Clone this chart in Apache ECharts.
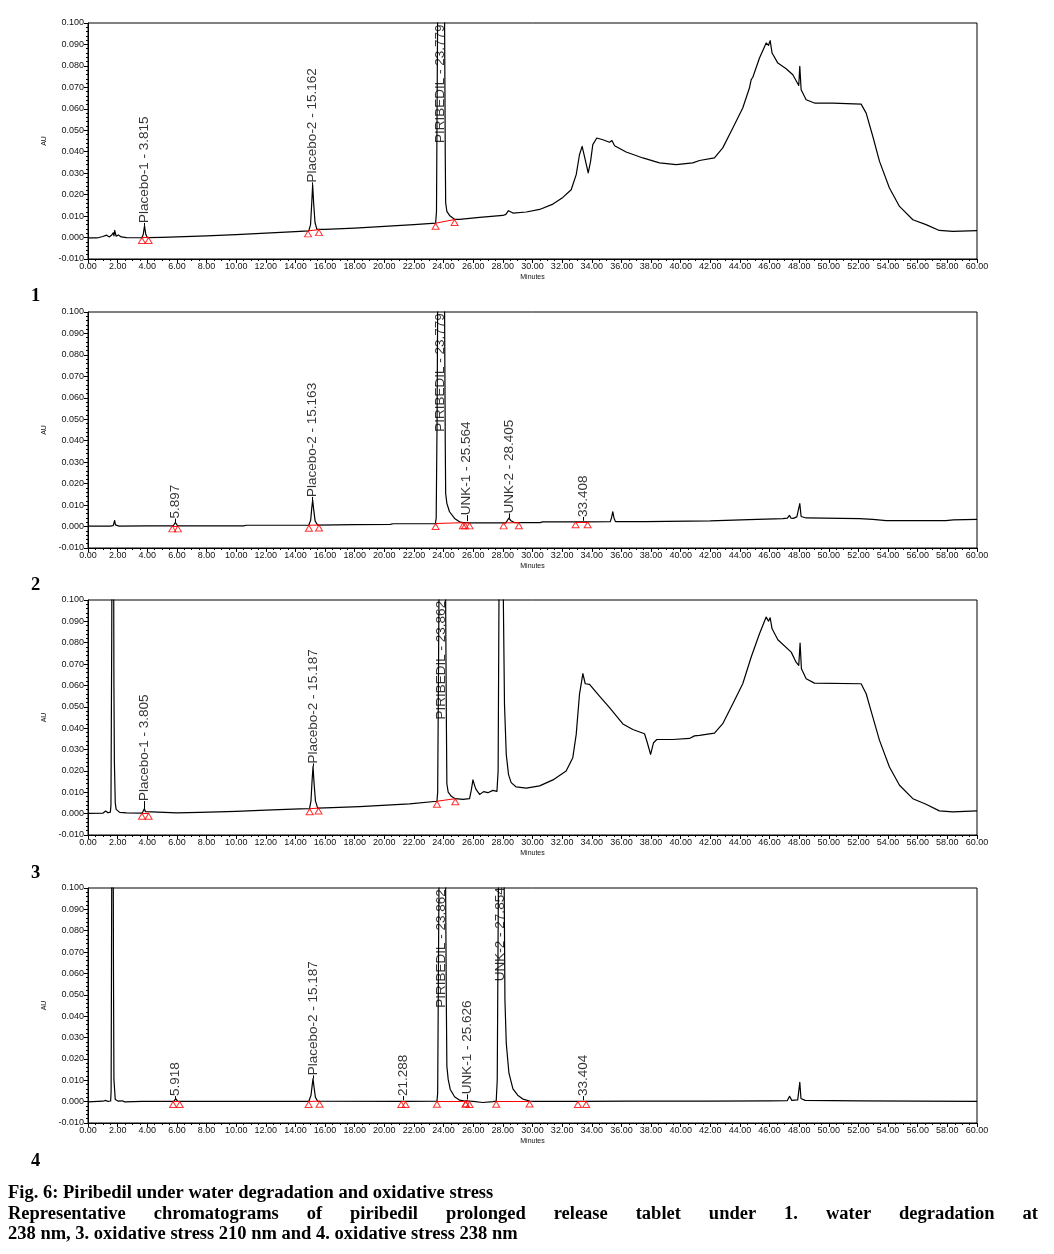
<!DOCTYPE html>
<html><head><meta charset="utf-8">
<script src="https://cdn.jsdelivr.net/npm/echarts@6/dist/echarts.min.js"></script>
<style>html,body{margin:0;padding:0;background:#fff}#c{width:1054px;height:1254px}</style>
</head><body><div id="c"></div>
<script>
// ---- data: [minutes, AU] ----
const trace1 = [[0,-0.0002],[0.6,-0.0002],[1.0,0.0005],[1.25,0.0011],[1.45,0.0003],[1.6,0.0012],[1.7,0.0022],[1.75,0.0008],[1.8,0.0033],[1.9,0.0006],[2.05,0.0012],[2.25,0.0003],[2.6,0.0],[3.2,-0.0001],[3.65,0.0],[3.73,0.0015],[3.815,0.0055],[3.9,0.0015],[4.0,0.0],[5,0.0001],[6,0.0003],[8,0.0008],[10,0.0014],[12,0.0021],[14,0.0028],[14.9,0.0031],[15.02,0.006],[15.1,0.016],[15.162,0.0246],[15.23,0.016],[15.32,0.007],[15.45,0.0038],[16,0.0038],[18,0.0044],[20,0.0052],[22,0.006],[23.46,0.0067],[23.52,0.012],[23.56,0.06],[23.62,0.13],[23.779,0.2],[23.95,0.16],[24.06,0.11],[24.11,0.04],[24.14,0.0161],[24.22,0.0122],[24.4,0.0103],[24.74,0.0085],[25.08,0.0085],[26.43,0.0094],[28.0,0.0103],[28.2,0.0108],[28.38,0.0125],[28.5,0.0118],[28.68,0.0114],[29.58,0.0119],[30.48,0.0131],[31.38,0.0156],[32.05,0.0187],[32.61,0.0223],[32.95,0.0293],[33.17,0.0386],[33.35,0.0425],[33.53,0.0371],[33.76,0.0301],[33.92,0.0355],[34.07,0.0433],[34.34,0.0464],[34.75,0.0456],[35.2,0.0444],[35.36,0.0452],[35.54,0.0428],[36.32,0.0399],[37.45,0.0371],[38.57,0.0348],[39.7,0.034],[40.82,0.0348],[41.27,0.0359],[42.28,0.0371],[42.84,0.0418],[43.52,0.0511],[44.19,0.0604],[44.64,0.0697],[44.76,0.0736],[44.87,0.0747],[45.32,0.0837],[45.77,0.0907],[45.93,0.0896],[46.04,0.0918],[46.17,0.086],[46.56,0.0813],[47.12,0.0787],[47.57,0.0759],[47.84,0.0725],[47.97,0.0709],[48.04,0.0798],[48.13,0.0689],[48.47,0.0642],[49.03,0.0627],[50.27,0.0627],[52.18,0.0622],[52.52,0.058],[52.97,0.0471],[53.42,0.0355],[54.09,0.0231],[54.77,0.0145],[55.67,0.0083],[56.56,0.006],[57.46,0.0033],[58.36,0.0029],[60,0.0032]];

const trace2 = [[0,0.0002],[1.5,0.0002],[1.7,0.0004],[1.8,0.0028],[1.85,0.0008],[1.95,0.0012],[2.1,0.0002],[4,0.0003],[5.75,0.0003],[5.83,0.001],[5.897,0.0019],[5.97,0.001],[6.05,0.0003],[10.5,0.0003],[10.7,0.0006],[14.9,0.0006],[15.03,0.003],[15.1,0.0085],[15.163,0.0123],[15.23,0.008],[15.33,0.0025],[15.5,0.0007],[18,0.0009],[20.4,0.001],[20.6,0.0013],[23.45,0.0014],[23.5,0.004],[23.56,0.05],[23.62,0.13],[23.779,0.2],[23.95,0.16],[24.06,0.11],[24.11,0.04],[24.14,0.0154],[24.22,0.0108],[24.4,0.0069],[24.74,0.0038],[25.08,0.0022],[25.3,0.0018],[25.45,0.0018],[25.564,0.0025],[25.7,0.0017],[26.5,0.0017],[28.2,0.0017],[28.3,0.0028],[28.405,0.0039],[28.55,0.0027],[28.8,0.0018],[30.5,0.0018],[30.7,0.0022],[33.3,0.0022],[33.408,0.0027],[33.52,0.0022],[35.25,0.0023],[35.33,0.004],[35.42,0.0069],[35.5,0.004],[35.6,0.0023],[36.4,0.0023],[36.5,0.0027],[36.6,0.0023],[37.6,0.0023],[37.7,0.0026],[42,0.0026],[44.6,0.0032],[46.9,0.0037],[47.2,0.0039],[47.34,0.0052],[47.45,0.0039],[47.6,0.0038],[47.84,0.0045],[47.97,0.0045],[48.04,0.0107],[48.13,0.0047],[48.47,0.004],[52.07,0.0037],[52.97,0.0033],[53.87,0.0028],[57.9,0.0028],[58.4,0.0031],[60,0.0033]];

const trace3 = [[0,0.0001],[1.0,0.0002],[1.19,0.0012],[1.35,0.0004],[1.51,0.0007],[1.55,0.004],[1.6,0.08],[1.65,0.2],[1.72,0.15],[1.75,0.06],[1.78,0.0245],[1.84,0.0051],[1.9,0.002],[1.96,0.0027],[2.02,0.0012],[2.14,0.0006],[2.6,0.0004],[3.65,0.0002],[3.73,0.0009],[3.805,0.0023],[3.88,0.0009],[4.0,0.0002],[6,0.0004],[7.53,0.0006],[10,0.0011],[12,0.0016],[14.28,0.0022],[14.95,0.0023],[15.05,0.006],[15.12,0.015],[15.187,0.0221],[15.26,0.014],[15.35,0.006],[15.5,0.0026],[16,0.0027],[18.33,0.0033],[21.7,0.0046],[23.55,0.0058],[23.6,0.01],[23.65,0.06],[23.72,0.14],[23.862,0.2],[24.0,0.17],[24.12,0.12],[24.18,0.05],[24.22,0.014],[24.31,0.0101],[24.52,0.0081],[24.79,0.007],[25.3,0.0067],[25.75,0.007],[25.87,0.011],[25.98,0.0158],[26.1,0.013],[26.2,0.0112],[26.43,0.009],[26.7,0.0103],[26.99,0.0098],[27.33,0.0109],[27.6,0.0104],[27.68,0.02],[27.73,0.09],[27.78,0.16],[27.854,0.22],[27.93,0.17],[28.0,0.12],[28.11,0.0511],[28.23,0.0277],[28.38,0.0184],[28.56,0.0145],[28.9,0.0125],[29.58,0.0119],[30.48,0.013],[31.38,0.0158],[32.27,0.02],[32.72,0.0262],[32.95,0.0371],[33.17,0.0558],[33.4,0.0655],[33.56,0.0608],[33.85,0.0605],[34.52,0.055],[35.2,0.0496],[36.1,0.042],[36.77,0.0394],[37.56,0.0374],[37.72,0.0339],[37.97,0.0277],[38.17,0.0332],[38.39,0.0347],[39.47,0.0347],[40.6,0.0352],[40.93,0.0364],[41.27,0.0366],[42.28,0.0377],[42.84,0.0421],[43.52,0.0514],[44.19,0.0608],[44.76,0.0733],[45.32,0.0842],[45.77,0.092],[45.93,0.0901],[46.04,0.0917],[46.17,0.0865],[46.56,0.0814],[47.46,0.0756],[47.79,0.0709],[47.97,0.0694],[48.06,0.0798],[48.15,0.0678],[48.47,0.0631],[49.03,0.0611],[52.18,0.0608],[52.52,0.0561],[52.97,0.0452],[53.42,0.0343],[54.09,0.0218],[54.77,0.0133],[55.67,0.007],[56.56,0.0044],[57.46,0.0013],[58.36,0.0008],[60,0.0013]];

const trace4 = [[0,-0.0001],[1.0,0.0002],[1.19,0.0006],[1.35,0.0001],[1.53,0.0003],[1.56,0.005],[1.6,0.1],[1.64,0.2],[1.69,0.15],[1.72,0.06],[1.75,0.0103],[1.84,0.001],[1.96,0.0019],[2.05,0.0002],[2.18,0.0001],[2.32,0.0004],[2.47,-0.0001],[3.65,0.0001],[3.71,0.0006],[3.78,0.0001],[5.8,0.0001],[5.87,0.0007],[5.918,0.0014],[5.97,0.0007],[6.05,0.0001],[10,0.0001],[14.9,0.0001],[15.05,0.003],[15.12,0.007],[15.187,0.0108],[15.26,0.0065],[15.35,0.002],[15.5,0.0002],[21.2,0.0001],[21.288,0.0007],[21.38,0.0001],[23.55,0.0002],[23.6,0.004],[23.65,0.06],[23.72,0.14],[23.862,0.2],[24.0,0.17],[24.12,0.12],[24.18,0.05],[24.22,0.0166],[24.31,0.0104],[24.45,0.0057],[24.74,0.0023],[25.08,0.0007],[25.42,0.0003],[25.56,0.0004],[25.626,0.001],[25.7,0.0003],[25.98,0.0001],[26.65,-0.0004],[27.33,0.0],[27.55,0.0002],[27.62,0.01],[27.68,0.08],[27.75,0.16],[27.854,0.2],[27.97,0.17],[28.07,0.12],[28.14,0.0475],[28.23,0.0273],[28.41,0.0133],[28.68,0.006],[29.0,0.003],[29.35,0.0012],[29.8,0.0003],[30.05,0.0001],[33.3,0.0001],[33.404,0.0006],[33.5,0.0001],[36.5,0.0002],[36.6,0.0005],[36.7,0.0002],[42,0.0002],[46,0.0004],[47.2,0.0005],[47.35,0.0025],[47.5,0.0006],[47.9,0.0008],[47.98,0.0012],[48.04,0.009],[48.12,0.0015],[48.4,0.0006],[52,0.0004],[56,0.0002],[60,0.0001]];

// peak labels: [retention time, label start AU, apex AU (null = no leader), text]
const labels1 = [[3.815,0.0068,0.0055,'Placebo-1 - 3.815'],[15.162,0.0257,0.0246,'Placebo-2 - 15.162'],[23.779,0.0441,null,'PIRIBEDIL - 23.779']];
const labels2 = [[5.897,0.0037,0.0019,'5.897'],[15.163,0.0138,0.0123,'Placebo-2 - 15.163'],[23.779,0.0442,null,'PIRIBEDIL - 23.779'],[25.564,0.0053,0.0025,'UNK-1 - 25.564'],[28.405,0.0061,0.0039,'UNK-2 - 28.405'],[33.408,0.0045,0.0027,'33.408']];
const labels3 = [[3.805,0.0059,0.0023,'Placebo-1 - 3.805'],[15.187,0.0235,0.0221,'Placebo-2 - 15.187'],[23.862,0.0441,null,'PIRIBEDIL - 23.862']];
const labels4 = [[5.918,0.0026,0.0014,'5.918'],[15.187,0.0123,0.0108,'Placebo-2 - 15.187'],[21.288,0.0026,0.0007,'21.288'],[23.862,0.0439,null,'PIRIBEDIL - 23.862'],[25.626,0.0034,0.001,'UNK-1 - 25.626'],[27.854,0.0564,null,'UNK-2 - 27.854'],[33.404,0.0026,0.0006,'33.404']];

// integration baselines: [start t, start AU, end t, end AU]
const base1 = [[3.64,0.0,4.09,0.0],[14.85,0.0031,15.59,0.0037],[23.46,0.0067,24.74,0.0084]];
const base2 = [[5.69,0.0003,6.07,0.0003],[14.91,0.0006,15.59,0.0007],[23.46,0.0014,25.3,0.0018],[25.45,0.0018,25.75,0.0017],[28.05,0.0017,29.08,0.0018],[32.91,0.0022,33.72,0.0022]];
const base3 = [[3.64,0.0002,4.09,0.0002],[14.96,0.0023,15.56,0.0026],[23.55,0.0058,24.79,0.007]];
const base4 = [[5.74,0.0001,6.19,0.0001],[14.89,0.0001,15.63,0.0002],[21.14,0.0001,21.43,0.0001],[23.55,0.0002,25.48,0.0003],[25.5,0.0003,25.75,0.0001],[27.55,0.0002,29.8,0.0003],[33.06,0.0001,33.62,0.0001]];

const panelNames = ['1','2','3','4'];
const captionLines = ['Fig. 6: Piribedil under water degradation and oxidative stress',
  'Representative chromatograms of piribedil prolonged release tablet under 1. water degradation at',
  '238 nm, 3. oxidative stress 210 nm and 4. oxidative stress 238 nm'];

// ---- chart ----
const panels = [
  {trace: trace1, labels: labels1, bases: base1, top: 23, h: 236},
  {trace: trace2, labels: labels2, bases: base2, top: 312, h: 236},
  {trace: trace3, labels: labels3, bases: base3, top: 600, h: 235},
  {trace: trace4, labels: labels4, bases: base4, top: 888, h: 235}
];
const SANS = '"Liberation Sans", Arial, sans-serif';
const SERIF = '"Liberation Serif", "Times New Roman", serif';

const grid = [], xAxis = [], yAxis = [], series = [];
panels.forEach((p, i) => {
  grid.push({left: 88, width: 889, top: p.top, height: p.h, show: true, borderColor: '#000', borderWidth: 1, containLabel: false, outerBoundsMode: 'none'});
  xAxis.push({type: 'value', gridIndex: i, min: 0, max: 60, interval: 2,
    axisLine: {show: true, onZero: false, lineStyle: {color: '#000', width: 1}},
    axisTick: {show: true, length: 4, lineStyle: {color: '#000'}},
    minorTick: {show: true, splitNumber: 4, length: 2, lineStyle: {color: '#000'}},
    splitLine: {show: false}, minorSplitLine: {show: false},
    axisLabel: {fontSize: 9, color: '#111', margin: 3, fontFamily: SANS, formatter: v => v.toFixed(2)},
    name: 'Minutes', nameLocation: 'middle', nameGap: 15,
    nameTextStyle: {fontSize: 7, color: '#111', fontFamily: SANS}});
  yAxis.push({type: 'value', gridIndex: i, min: -0.01, max: 0.1, interval: 0.01,
    axisLine: {show: true, onZero: false, lineStyle: {color: '#000', width: 1}},
    axisTick: {show: true, length: 4, lineStyle: {color: '#000'}},
    minorTick: {show: true, splitNumber: 5, length: 2, lineStyle: {color: '#000'}},
    splitLine: {show: false}, minorSplitLine: {show: false},
    axisLabel: {fontSize: 9, color: '#111', margin: 4, fontFamily: SANS, formatter: v => v.toFixed(3)},
    name: 'AU', nameLocation: 'middle', nameGap: 33,
    nameTextStyle: {fontSize: 7, color: '#111', fontFamily: SANS}});
  series.push({type: 'line', xAxisIndex: i, yAxisIndex: i, data: p.trace, showSymbol: false,
    symbol: 'none', clip: true,
    lineStyle: {color: '#000', width: 1.2, join: 'round'}, z: 3, silent: true});
  const tri = [];
  p.bases.forEach(b => { tri.push([b[0], b[1]]); tri.push([b[2], b[3]]); });
  series.push({type: 'scatter', xAxisIndex: i, yAxisIndex: i, data: tri, symbol: 'triangle',
    symbolSize: [7, 6], symbolOffset: [0, 3], z: 4, silent: true,
    itemStyle: {color: 'rgba(255,255,255,0)', borderColor: '#ff0000', borderWidth: 1},
    markLine: {silent: true, symbol: ['none', 'none'], animation: false, label: {show: false},
      lineStyle: {color: '#ff0000', width: 1, type: 'solid'},
      data: p.bases.map(b => [{coord: [b[0], b[1]]}, {coord: [b[2], b[3]]}])}});
  series.push({type: 'scatter', xAxisIndex: i, yAxisIndex: i, z: 5, silent: true,
    data: p.labels.map(l => [l[0], l[1], l[3]]), symbol: 'circle', symbolSize: 1,
    itemStyle: {color: 'rgba(0,0,0,0)'},
    label: {show: true, formatter: q => q.data[2], position: 'inside', rotate: 90,
      align: 'left', verticalAlign: 'middle', distance: 0, fontSize: 13.5, color: '#000',
      fontFamily: SANS, textBorderWidth: 0},
    markLine: {silent: true, symbol: ['none', 'none'], animation: false, label: {show: false},
      lineStyle: {color: '#000', width: 1, type: 'solid'},
      data: p.labels.filter(l => l[2] !== null).map(l => [{coord: [l[0], l[2]]}, {coord: [l[0], l[1]]}])}});
});

// caption: font sized so line 1 spans the printed width; line 2 justified like the printed figure
const ctx = document.createElement('canvas').getContext('2d');
ctx.font = 'bold 16px ' + SERIF;
const capSize = Math.round(16 * 489 / ctx.measureText(captionLines[0]).width * 2) / 2;
ctx.font = 'bold ' + capSize + 'px ' + SERIF;
const capStyle = t => ({text: t, fontSize: capSize, fontWeight: 'bold', fontFamily: SERIF, fill: '#000', align: 'left', verticalAlign: 'middle'});
const graphic = [];
[296, 585, 873, 1161].forEach((y, i) => graphic.push({type: 'text', x: 31, y: y, style: capStyle(panelNames[i])}));
graphic.push({type: 'text', x: 8, y: 1193, style: capStyle(captionLines[0])});
const words = captionLines[1].split(' ');
const widths = words.map(w => ctx.measureText(w).width);
const total = widths.reduce((a, b) => a + b, 0);
const gap = (1030 - total) / (words.length - 1);
let cx = 8;
words.forEach((w, k) => {
  graphic.push({type: 'text', x: cx, y: 1214, style: capStyle(w)});
  cx += widths[k] + gap;
});
graphic.push({type: 'text', x: 8, y: 1234, style: capStyle(captionLines[2])});

const chart = echarts.init(document.getElementById('c'), null, {renderer: 'canvas'});
chart.setOption({animation: false, backgroundColor: '#fff', grid, xAxis, yAxis, series, graphic});
</script>
</body></html>
